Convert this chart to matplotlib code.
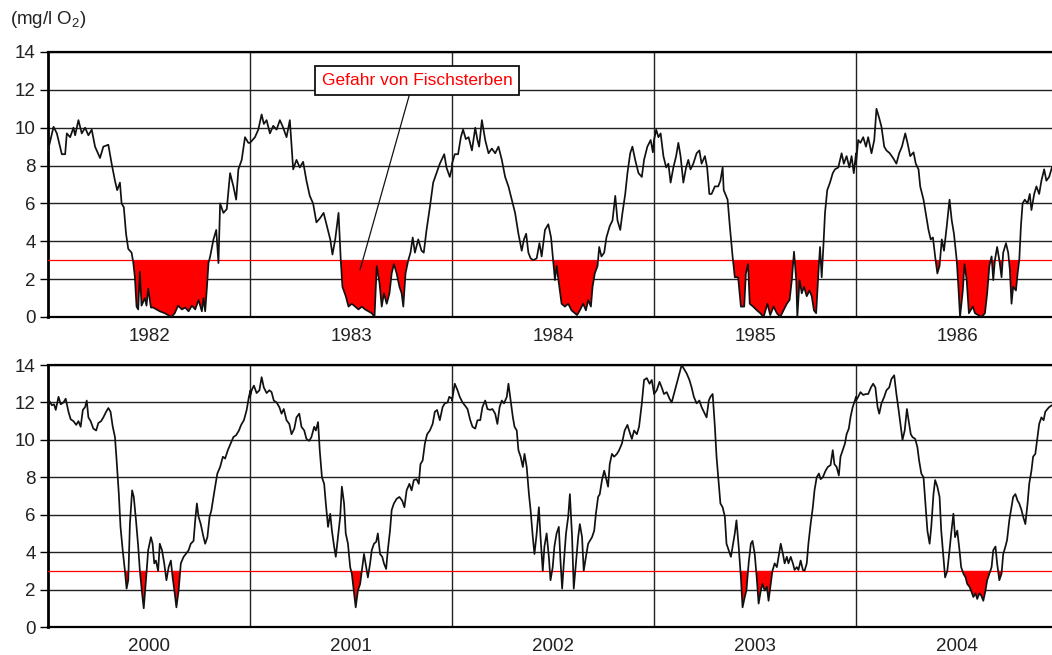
import numpy as np
import matplotlib.pyplot as plt

plt.rcParams['font.family'] = ['Liberation Sans', 'DejaVu Sans']
plt.rcParams['mathtext.default'] = 'regular'

# Sauerstoffgehalt (mg/l O2): (Tag im Jahr, Messwert)
o2_1982 = [(0, 8.8), (10, 10.05), (16, 9.7), (25, 8.6), (31, 8.6), (34, 9.7), (40, 9.5), (46, 10.0), (49, 9.6),
           (55, 10.4), (61, 9.7), (67, 10.0), (73, 9.6), (79, 9.9), (85, 9.0), (94, 8.4), (100, 9.0), (109, 9.1),
           (115, 8.1), (121, 7.2), (125, 6.7), (130, 7.1), (133, 6.0), (137, 5.8), (141, 4.4), (145, 3.6),
           (151, 3.4), (154, 2.9), (157, 2.1), (160, 0.55), (163, 0.4), (166, 2.4), (169, 0.6), (175, 1.0),
           (178, 0.6), (181, 1.5), (186, 0.5), (190, 0.5), (196, 0.4), (202, 0.3), (211, 0.2), (217, 0.1),
           (223, 0.0), (229, 0.2), (235, 0.6), (242, 0.4), (248, 0.5), (254, 0.3), (260, 0.6), (266, 0.4),
           (272, 0.9), (278, 0.3), (281, 1.0), (284, 0.3), (287, 1.5), (290, 2.85), (293, 3.2), (299, 4.1),
           (304, 4.6), (308, 2.85), (311, 6.0), (317, 5.5), (323, 5.7), (329, 7.6), (335, 6.9), (340, 6.2),
           (344, 7.8), (350, 8.3), (356, 9.5), (362, 9.2)]
o2_1983 = [(0, 9.2), (9, 9.5), (15, 9.9), (21, 10.7), (25, 10.2), (30, 10.4), (36, 9.7), (42, 10.1), (48, 9.9),
           (54, 10.4), (60, 10.0), (66, 9.5), (72, 10.4), (78, 7.8), (84, 8.3), (90, 7.9), (96, 8.2), (102, 7.2),
           (108, 6.4), (114, 6.0), (120, 5.0), (126, 5.2), (133, 5.5), (139, 4.8), (145, 4.1), (149, 3.3),
           (154, 4.1), (160, 5.5), (164, 3.0), (167, 1.6), (173, 1.1), (178, 0.55), (184, 0.7), (190, 0.55),
           (196, 0.4), (202, 0.55), (208, 0.4), (214, 0.3), (220, 0.2), (225, 0.0), (229, 2.7), (234, 1.8),
           (238, 0.55), (242, 1.25), (247, 0.7), (252, 1.25), (256, 2.3), (260, 2.8), (265, 2.3), (270, 1.6),
           (274, 1.25), (277, 0.55), (281, 2.3), (286, 3.0), (290, 3.4), (294, 4.2), (298, 3.4), (304, 4.1),
           (310, 3.5), (314, 3.4), (319, 4.6), (325, 5.8), (331, 7.1), (337, 7.6), (343, 8.1), (351, 8.6),
           (355, 7.9), (361, 7.4), (365, 7.9)]
o2_1984 = [(0, 8.1), (5, 8.6), (11, 8.6), (16, 9.5), (20, 9.9), (25, 9.4), (30, 9.5), (36, 8.8), (42, 10.0),
           (46, 9.35), (49, 9.0), (54, 10.4), (60, 9.35), (66, 8.65), (72, 8.9), (78, 8.65), (84, 9.0), (90, 8.3),
           (96, 7.4), (102, 6.9), (108, 6.2), (114, 5.5), (120, 4.4), (126, 3.5), (130, 4.1), (134, 4.4),
           (138, 3.4), (142, 3.1), (147, 3.0), (153, 3.1), (158, 3.9), (162, 3.2), (168, 4.6), (174, 4.9),
           (179, 4.2), (183, 2.9), (186, 1.95), (189, 2.7), (194, 1.6), (198, 0.7), (204, 0.55), (210, 0.7),
           (216, 0.35), (222, 0.2), (226, 0.1), (231, 0.35), (237, 0.7), (242, 0.35), (246, 0.9), (251, 0.55),
           (254, 1.6), (258, 2.3), (263, 2.7), (266, 3.7), (270, 3.2), (275, 3.4), (279, 4.2), (285, 4.8),
           (290, 5.1), (295, 6.4), (299, 5.1), (304, 4.6), (308, 5.5), (313, 6.5), (317, 7.6), (322, 8.65),
           (326, 9.0), (331, 8.3), (337, 7.6), (343, 7.4), (347, 8.3), (353, 9.0), (359, 9.35), (363, 8.7)]
o2_1985 = [(0, 9.35), (4, 9.9), (8, 9.5), (12, 9.7), (17, 8.5), (22, 7.9), (26, 8.1), (30, 7.1), (35, 7.9),
           (40, 8.5), (44, 9.2), (48, 8.5), (53, 7.1), (58, 7.9), (62, 8.3), (66, 7.8), (71, 8.1), (77, 8.65),
           (82, 8.8), (86, 8.1), (92, 8.5), (96, 7.9), (100, 6.5), (104, 6.5), (110, 6.9), (116, 6.9), (120, 7.2),
           (124, 7.9), (126, 6.7), (133, 6.2), (137, 4.8), (142, 3.2), (146, 2.1), (152, 2.1), (157, 0.55),
           (163, 0.55), (166, 2.3), (170, 2.8), (173, 0.7), (179, 0.55), (186, 0.35), (192, 0.2), (198, 0.0),
           (205, 0.7), (210, 0.1), (216, 0.55), (222, 0.2), (228, 0.0), (234, 0.35), (240, 0.7), (245, 0.9),
           (249, 1.95), (253, 3.45), (257, 1.95), (259, 0.0), (263, 1.95), (267, 1.25), (271, 1.6), (276, 1.1),
           (281, 1.4), (285, 1.1), (289, 0.35), (293, 0.2), (297, 2.3), (300, 3.7), (303, 2.1), (306, 3.7),
           (309, 5.5), (313, 6.7), (318, 7.1), (323, 7.6), (327, 7.8), (333, 7.9), (339, 8.65), (343, 8.1),
           (348, 8.5), (353, 7.9), (357, 8.5), (361, 7.6), (365, 8.65)]
o2_1986 = [(0, 8.1), (4, 9.35), (8, 9.2), (13, 9.5), (18, 9.0), (22, 9.5), (28, 8.65), (33, 9.35), (37, 11.0),
           (42, 10.5), (46, 10.05), (51, 9.0), (55, 8.8), (61, 8.65), (67, 8.4), (73, 8.1), (78, 8.65), (83, 9.0),
           (89, 9.7), (93, 9.2), (98, 8.5), (104, 8.7), (108, 8.1), (113, 7.8), (116, 6.9), (122, 6.2), (126, 5.5),
           (131, 4.6), (135, 4.1), (139, 4.2), (143, 3.2), (147, 2.3), (151, 2.7), (155, 4.1), (159, 3.5),
           (164, 4.8), (169, 6.2), (173, 5.1), (177, 4.4), (182, 3.0), (185, 1.6), (188, 0.0), (193, 1.4),
           (196, 2.8), (200, 1.95), (204, 0.2), (207, 0.35), (211, 0.55), (215, 0.2), (221, 0.1), (227, 0.0),
           (233, 0.2), (237, 1.25), (241, 2.7), (245, 3.2), (248, 1.95), (251, 3.0), (255, 3.7), (259, 3.0),
           (263, 2.1), (266, 3.4), (271, 3.9), (275, 3.4), (278, 2.5), (281, 0.7), (284, 1.6), (289, 1.4),
           (292, 2.3), (295, 3.0), (298, 4.8), (301, 6.0), (305, 6.2), (310, 6.0), (314, 6.5), (317, 5.65),
           (322, 6.5), (326, 6.9), (331, 6.5), (335, 7.2), (340, 7.8), (344, 7.2), (349, 7.4), (354, 7.9),
           (360, 8.0)]

o2_2000 = [(0, 11.9), (2, 12.1), (7, 11.85), (11, 11.9), (14, 11.6), (19, 12.3), (23, 11.9), (28, 12.0), (32, 12.2),
           (37, 11.5), (41, 11.1), (46, 11.0), (51, 10.8), (55, 11.0), (59, 10.7), (63, 11.6), (67, 11.75),
           (70, 12.1), (73, 11.2), (77, 11.0), (82, 10.6), (87, 10.5), (91, 10.9), (96, 11.0), (100, 11.2),
           (105, 11.5), (109, 11.7), (113, 11.5), (117, 10.7), (121, 10.15), (124, 8.9), (128, 7.1), (131, 5.35),
           (135, 4.1), (139, 3.0), (142, 2.05), (145, 2.5), (148, 5.5), (152, 7.3), (155, 6.95), (159, 5.7),
           (163, 4.3), (166, 3.0), (170, 1.8), (173, 1.0), (177, 2.5), (181, 4.1), (186, 4.8), (189, 4.45),
           (192, 3.4), (195, 3.55), (199, 3.0), (202, 4.45), (206, 4.1), (210, 3.4), (214, 2.5), (218, 3.2),
           (222, 3.55), (225, 2.7), (229, 1.8), (232, 1.05), (236, 1.95), (240, 3.4), (245, 3.75), (249, 3.9),
           (254, 4.1), (258, 4.45), (263, 4.6), (266, 5.7), (269, 6.6), (272, 5.9), (276, 5.5), (281, 4.8),
           (284, 4.45), (288, 4.8), (292, 5.9), (295, 6.2), (299, 6.95), (302, 7.5), (306, 8.2), (311, 8.55),
           (316, 9.1), (320, 9.0), (325, 9.45), (330, 9.8), (335, 10.15), (340, 10.25), (345, 10.5), (349, 10.8),
           (354, 11.05), (359, 11.6), (363, 12.3), (366, 12.65)]
o2_2001 = [(0, 12.3), (3, 12.65), (7, 12.9), (12, 12.5), (17, 12.65), (21, 13.35), (25, 12.8), (30, 12.5),
           (35, 12.65), (39, 12.55), (43, 12.1), (48, 12.0), (53, 11.75), (57, 11.4), (61, 11.65), (66, 11.05),
           (71, 10.85), (75, 10.3), (80, 10.6), (84, 11.2), (89, 11.4), (93, 10.7), (98, 10.5), (102, 10.05),
           (107, 9.95), (111, 10.15), (116, 10.7), (119, 10.5), (123, 10.95), (126, 9.45), (130, 8.0), (134, 7.65),
           (137, 6.6), (141, 5.35), (145, 6.05), (148, 5.15), (152, 4.3), (155, 3.75), (159, 4.8), (163, 5.9),
           (166, 7.5), (170, 6.6), (173, 5.0), (177, 4.45), (181, 3.2), (184, 2.85), (188, 1.8), (191, 1.05),
           (195, 1.95), (199, 2.3), (202, 3.0), (206, 3.9), (210, 3.2), (213, 2.65), (217, 3.4), (220, 4.1),
           (224, 4.45), (228, 4.55), (231, 5.0), (235, 3.9), (239, 3.75), (242, 3.4), (246, 3.1), (249, 4.1),
           (253, 5.15), (256, 6.25), (260, 6.6), (265, 6.85), (270, 6.95), (275, 6.75), (279, 6.4), (283, 7.3),
           (288, 7.65), (292, 7.3), (296, 7.85), (301, 7.9), (305, 7.65), (308, 8.7), (312, 8.9), (316, 9.8),
           (320, 10.3), (325, 10.5), (330, 10.85), (334, 11.5), (338, 11.6), (343, 11.05), (348, 11.75),
           (352, 11.95), (357, 12.0), (360, 12.3), (365, 12.2)]
o2_2002 = [(0, 12.1), (5, 13.0), (10, 12.65), (14, 12.3), (19, 12.0), (23, 11.85), (28, 11.65), (33, 11.05),
           (37, 10.7), (42, 10.6), (46, 11.05), (51, 11.05), (55, 11.75), (60, 12.1), (64, 11.65), (69, 11.6),
           (73, 11.65), (78, 11.4), (82, 10.85), (86, 11.75), (90, 12.1), (94, 11.95), (99, 12.3), (102, 13.0),
           (106, 12.1), (110, 11.2), (113, 10.7), (117, 10.5), (120, 9.45), (124, 9.1), (128, 8.55), (131, 9.25),
           (135, 8.55), (139, 7.1), (142, 6.25), (146, 4.8), (149, 3.9), (153, 5.0), (157, 6.4), (160, 4.8),
           (164, 3.0), (167, 4.3), (171, 5.0), (175, 3.75), (178, 2.5), (182, 3.2), (185, 4.3), (189, 5.0),
           (193, 5.35), (196, 3.55), (199, 2.05), (202, 3.4), (206, 5.0), (210, 5.9), (213, 7.1), (217, 4.8),
           (220, 2.05), (224, 3.4), (228, 4.8), (231, 5.5), (235, 4.8), (238, 3.0), (242, 3.75), (246, 4.45),
           (249, 4.6), (253, 4.8), (257, 5.15), (260, 6.05), (264, 6.95), (267, 7.1), (271, 7.85), (275, 8.35),
           (278, 8.0), (282, 7.5), (285, 8.7), (289, 9.25), (293, 9.1), (298, 9.25), (302, 9.45), (307, 9.8),
           (312, 10.5), (317, 10.8), (320, 10.5), (325, 10.05), (329, 10.5), (334, 10.3), (338, 10.7),
           (343, 11.95), (347, 13.2), (352, 13.3), (357, 13.0), (361, 13.2), (365, 12.5)]
o2_2003 = [(0, 12.45), (5, 12.65), (10, 13.1), (14, 12.8), (18, 12.45), (23, 12.55), (28, 12.2), (32, 12.0),
           (36, 12.45), (41, 13.0), (46, 13.55), (50, 14.0), (54, 13.8), (59, 13.55), (64, 13.2), (68, 12.8),
           (72, 12.3), (77, 11.95), (82, 12.1), (86, 11.75), (90, 11.5), (95, 11.2), (99, 12.1), (102, 12.3),
           (106, 12.45), (110, 10.7), (113, 9.1), (117, 7.65), (120, 6.6), (124, 6.4), (128, 5.9), (131, 4.45),
           (135, 4.1), (139, 3.75), (142, 4.3), (146, 5.0), (149, 5.7), (153, 4.3), (157, 2.65), (160, 1.05),
           (164, 1.6), (167, 1.95), (171, 3.4), (175, 4.45), (178, 4.6), (182, 3.9), (186, 2.5), (189, 1.25),
           (193, 1.95), (196, 2.3), (200, 1.95), (204, 2.15), (207, 1.4), (211, 2.3), (214, 3.0), (218, 3.4),
           (222, 3.2), (225, 3.75), (229, 4.45), (233, 3.9), (236, 3.4), (240, 3.75), (243, 3.4), (247, 3.75),
           (251, 3.4), (254, 3.05), (258, 3.2), (261, 3.05), (265, 3.55), (269, 3.05), (272, 3.0), (276, 3.4),
           (279, 4.45), (283, 5.5), (287, 6.4), (290, 7.3), (294, 8.0), (298, 8.2), (301, 7.9), (305, 8.0),
           (310, 8.35), (314, 8.55), (319, 8.65), (323, 9.45), (326, 8.7), (330, 8.55), (334, 8.1), (337, 9.1),
           (341, 9.45), (345, 9.8), (348, 10.3), (352, 10.6), (355, 11.2), (359, 11.75), (363, 12.1), (365, 12.3)]
o2_2004 = [(0, 12.1), (4, 12.3), (8, 12.55), (13, 12.4), (18, 12.45), (22, 12.45), (27, 12.8), (31, 13.0),
           (35, 12.8), (39, 11.75), (42, 11.4), (46, 11.95), (51, 12.3), (55, 12.65), (60, 12.8), (64, 13.25),
           (69, 13.45), (73, 12.45), (77, 11.6), (81, 10.7), (84, 10.0), (88, 10.5), (92, 11.65), (95, 11.05),
           (99, 10.3), (102, 10.15), (107, 10.05), (111, 9.6), (114, 8.9), (118, 8.2), (122, 8.0), (125, 6.75),
           (129, 5.15), (133, 4.45), (136, 5.35), (140, 7.1), (143, 7.85), (147, 7.5), (151, 6.95), (154, 5.15),
           (158, 3.75), (161, 2.65), (165, 3.0), (169, 4.1), (172, 5.0), (176, 6.05), (179, 4.8), (183, 5.15),
           (187, 4.1), (190, 3.2), (194, 2.85), (198, 2.65), (201, 2.3), (205, 2.15), (208, 1.95), (212, 1.6),
           (216, 1.8), (219, 1.5), (223, 1.8), (226, 1.7), (230, 1.4), (234, 1.95), (237, 2.5), (241, 2.85),
           (245, 3.2), (248, 4.1), (252, 4.3), (255, 3.4), (259, 2.5), (263, 2.85), (266, 3.9), (270, 4.3),
           (273, 4.65), (277, 5.7), (281, 6.4), (284, 6.95), (288, 7.1), (292, 6.75), (295, 6.6), (299, 6.25),
           (302, 5.9), (306, 5.5), (310, 6.6), (313, 7.65), (317, 8.35), (320, 9.1), (324, 9.25), (328, 10.15),
           (331, 10.85), (335, 11.2), (339, 11.05), (342, 11.5), (346, 11.65), (349, 11.75), (354, 11.85),
           (360, 11.8)]

years_top = [1982, 1983, 1984, 1985, 1986]
years_bottom = [2000, 2001, 2002, 2003, 2004]
series = {1982: o2_1982, 1983: o2_1983, 1984: o2_1984, 1985: o2_1985, 1986: o2_1986,
          2000: o2_2000, 2001: o2_2001, 2002: o2_2002, 2003: o2_2003, 2004: o2_2004}

# Zeitraeume (Tag im Jahr), in denen Fischsterben droht
danger_periods = {1982: [(0, 366)], 1983: [(0, 366)], 1984: [(0, 366)], 1985: [(0, 366)], 1986: [(0, 366)],
                  2000: [(136, 147), (164, 180), (222, 240)], 2001: [(180, 204)], 2002: [],
                  2003: [(154, 214)], 2004: [(190, 247), (256, 264)]}

threshold = 3.0


def build_series(years):
    x, y, mark = [], [], []
    for i, yr in enumerate(years):
        for day, value in series[yr]:
            x.append(i + day / 365.0)
            y.append(value)
            mark.append(any(a <= day <= b for a, b in danger_periods[yr]))
    return np.array(x), np.array(y), np.array(mark)


def draw_panel(ax, years):
    x, y, mark = build_series(years)

    # red area below the critical oxygen level
    ax.fill_between(x, y, threshold, where=(y < threshold) & mark, interpolate=True,
                    color='#ff0000', lw=0, zorder=2)
    ax.plot(x, y, color='#111111', lw=1.25, zorder=4)
    ax.axhline(threshold, color='#ff0000', lw=0.9, zorder=3)

    for b in range(1, len(years)):
        ax.axvline(b, color='#222222', lw=1.0, zorder=1)

    ax.set_xlim(0, 5)
    ax.set_ylim(0, 14)
    ax.set_yticks(range(0, 15, 2))
    ax.grid(axis='y', color='#222222', lw=1.0, zorder=1)
    ax.set_axisbelow(True)
    ax.set_xticks([i + 0.5 for i in range(len(years))])
    ax.set_xticklabels([str(yr) for yr in years])
    ax.tick_params(axis='x', length=0, pad=8, labelsize=13.5, labelcolor='#222222')
    ax.tick_params(axis='y', length=6, width=1.0, pad=3, labelsize=13.5, labelcolor='#222222')
    for side in ['top', 'bottom']:
        ax.spines[side].set_linewidth(1.6)
    ax.spines['left'].set_linewidth(2.0)
    ax.spines['right'].set_visible(False)


W, H = 1052, 655
fig = plt.figure(figsize=(W / 100, H / 100), dpi=100)
ax_top = fig.add_axes([48 / W, 1 - 317 / H, 1010 / W, 265 / H])
ax_bottom = fig.add_axes([48 / W, 1 - 627 / H, 1010 / W, 262 / H])

draw_panel(ax_top, years_top)
draw_panel(ax_bottom, years_bottom)

fig.text(10 / W, 1 - 19 / H, '(mg/l O$_2$)', fontsize=13.5, color='#222222', va='center', ha='left')

ax_top.annotate('Gefahr von Fischsterben', xy=(1.545, 2.5), xytext=(1.827, 12.5),
                color='#ff0000', fontsize=12.5, ha='center', va='center', zorder=6,
                bbox=dict(boxstyle='square,pad=0.4', fc='white', ec='#111111', lw=1.3),
                arrowprops=dict(arrowstyle='-', color='#111111', lw=0.9, relpos=(0.47, 0),
                                shrinkA=0, shrinkB=0))

fig.savefig('out.png', dpi=100)
